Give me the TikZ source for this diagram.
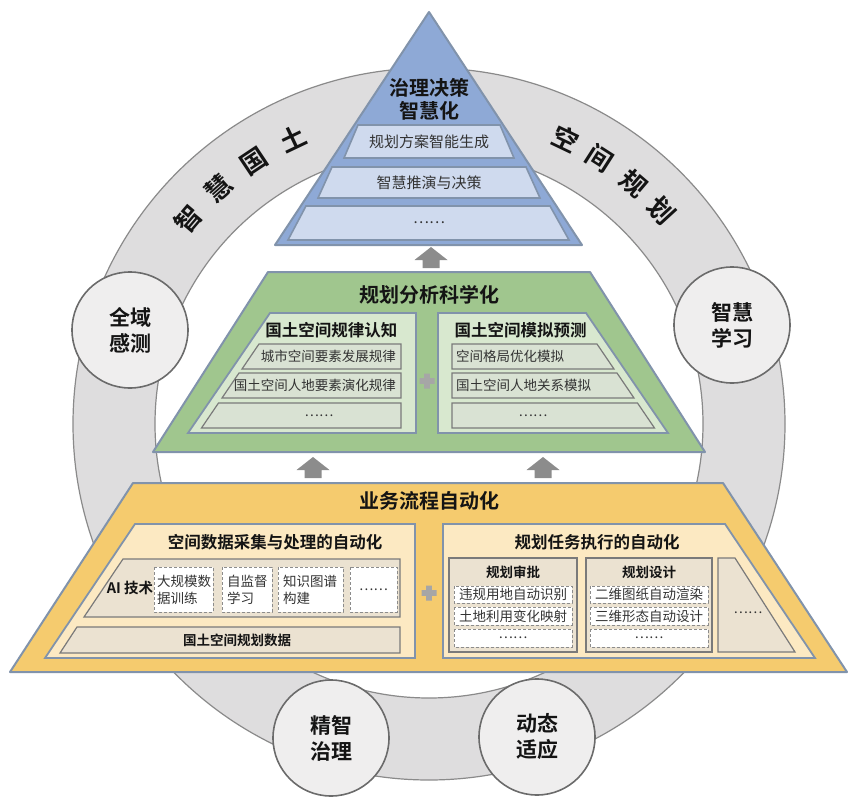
\documentclass[tikz,border=0pt]{standalone}
\usepackage{fontspec}
\setmainfont{Noto Sans CJK SC}[BoldFont={Noto Sans CJK SC Bold}]
\usepackage{tikz}
\usetikzlibrary{calc}
\definecolor{ringfill}{HTML}{DEDDDE}
\definecolor{ringline}{HTML}{8A8A8A}
\definecolor{bubblefill}{HTML}{EFEEEE}
\definecolor{bubbleline}{HTML}{6B6B6B}
\definecolor{tierline}{HTML}{8193AB}
\definecolor{rowline}{HTML}{7A7A7A}
\definecolor{dashline}{HTML}{8C8C8C}
\definecolor{pyrfill}{HTML}{8EA9D6}
\definecolor{pyrband}{HTML}{CFDAEE}
\definecolor{greenfill}{HTML}{A0C68E}
\definecolor{greenpanel}{HTML}{D8E8CF}
\definecolor{greenrow}{HTML}{D9E2D3}
\definecolor{goldfill}{HTML}{F5CB6E}
\definecolor{goldpanel}{HTML}{FCE9C2}
\definecolor{beige}{HTML}{EBE2D1}
\definecolor{arrowgray}{HTML}{8C8C8C}
\definecolor{plusgray}{HTML}{A6A6A6}
\definecolor{inkblack}{HTML}{141414}
\definecolor{inkgray}{HTML}{333333}
\tikzstyle{ring}=[fill=ringfill, draw=ringline, line width=1.2pt, even odd rule]
\tikzstyle{bubble}=[circle, minimum size=116pt, inner sep=0pt, fill=bubblefill, draw=bubbleline, line width=1.6pt, align=center, text=inkblack, font=\fontsize{21}{26}\selectfont\bfseries]
\tikzstyle{ringchar}=[font=\fontsize{26}{26}\selectfont\bfseries, text=inkblack]
\tikzstyle{tier}=[draw=tierline, line width=2pt, line join=round]
\tikzstyle{panel}=[draw=tierline, line width=1.8pt]
\tikzstyle{band}=[draw=tierline, line width=1.6pt, fill=pyrband]
\tikzstyle{rowbox}=[draw=rowline, line width=1.2pt]
\tikzstyle{dashbox}=[draw=dashline, line width=1pt, dash pattern=on 3pt off 2pt, fill=white]
\tikzstyle{tiertitle}=[font=\fontsize{20}{23}\selectfont\bfseries, text=inkblack, align=center]
\tikzstyle{header}=[font=\fontsize{16.5}{19}\selectfont\bfseries, text=inkblack]
\tikzstyle{bandtext}=[font=\fontsize{15}{18}\selectfont, text=inkgray]
\tikzstyle{rowtext}=[font=\fontsize{13.5}{17}\selectfont, text=inkgray, inner sep=0pt]
\tikzstyle{boldrow}=[font=\fontsize{13.5}{17}\selectfont\bfseries, text=inkblack, inner sep=0pt]
\newcommand{\upArrow}[1]{
	\fill[arrowgray, shift={#1}] (0,0) -- (16.5,13) -- (8.5,13) -- (8.5,21) -- (-8.5,21) -- (-8.5,13) -- (-16.5,13) -- cycle;
}
\newcommand{\plusSign}[1]{
	\fill[plusgray, shift={#1}] (-2.8,-7.5) rectangle (2.8,7.5) (-7.5,-2.8) rectangle (7.5,2.8);
}
\begin{document}
\begin{tikzpicture}[x=1pt, y=-1pt]
	\useasboundingbox (0,0) rectangle (855,808);
	\coordinate (C) at (429,424);
	\draw[ring] (C) circle (356pt) (C) circle (274pt);
	\foreach \ch/\ang [count=\i] in {智/139.5, 慧/131.9, 国/123.7, 土/115.5}
		\node[ringchar, rotate=\ang-90] (landch\i) at ($(C)+(-\ang:316)$) {\ch};
	\foreach \ch/\ang [count=\i] in {空/64.4, 间/57.4, 规/49.5, 划/42.5}
		\node[ringchar, rotate=\ang-90] (planch\i) at ($(C)+(-\ang:316)$) {\ch};
	\node[bubble] (sense) at (130,330) {全域\\感测};
	\node[bubble] (learn) at (732,325) {智慧\\学习};
	\node[bubble] (govern) at (331,738) {精智\\治理};
	\node[bubble] (adapt) at (537,737) {动态\\适应};

	\draw[tier, fill=pyrfill] (429,12) -- (582,245) -- (275,245) -- cycle;
	\draw[band] (358,125) -- (500,125) -- (514,158) -- (344,158) -- cycle;
	\draw[band] (332,167) -- (526,167) -- (540,198) -- (318,198) -- cycle;
	\draw[band] (306,206) -- (550,206) -- (569,240) -- (288,240) -- cycle;
	\node[tiertitle] (pyrtitle) at (429,99.5) {治理决策\\智慧化};
	\node[bandtext] (genplan) at (429,141.5) {规划方案智能生成};
	\node[bandtext] (deduce) at (429,182.5) {智慧推演与决策};
	\node[bandtext] (pyrmore) at (429,223) {……};
	\upArrow{(431,247)}

	\draw[tier, fill=greenfill] (268,272) -- (590,272) -- (705,452) -- (153,452) -- cycle;
	\node[tiertitle] (greentitle) at (429,295) {规划分析科学化};
	\draw[panel, fill=greenpanel] (270,313) -- (416,313) -- (416,433) -- (188,433) -- cycle;
	\draw[panel, fill=greenpanel] (438,313) -- (586,313) -- (668,433) -- (438,433) -- cycle;
	\draw[rowbox, fill=greenrow] (259,344) -- (401,344) -- (401,369) -- (242,369) -- cycle;
	\draw[rowbox, fill=greenrow] (239,373) -- (401,373) -- (401,398) -- (222,398) -- cycle;
	\draw[rowbox, fill=greenrow] (218.5,403) -- (401,403) -- (401,428) -- (201.5,428) -- cycle;
	\draw[rowbox, fill=greenrow] (452,344) -- (597,344) -- (614,369) -- (452,369) -- cycle;
	\draw[rowbox, fill=greenrow] (452,373) -- (617,373) -- (634,398) -- (452,398) -- cycle;
	\draw[rowbox, fill=greenrow] (452,403) -- (637.5,403) -- (654.5,428) -- (452,428) -- cycle;
	\node[header, anchor=east] (lawhead) at (401,330) {国土空间规律认知};
	\node[header, anchor=west] (simhead) at (451,330) {国土空间模拟预测};
	\node[rowtext, anchor=east] (urbanlaw) at (396,356.5) {城市空间要素发展规律};
	\node[rowtext, anchor=east] (evolaw) at (396,385.5) {国土空间人地要素演化规律};
	\node[rowtext] (lawmore) at (319,415.5) {……};
	\node[rowtext, anchor=west] (layoutsim) at (456,356.5) {空间格局优化模拟};
	\node[rowtext, anchor=west] (relsim) at (456,385.5) {国土空间人地关系模拟};
	\node[rowtext] (simmore) at (533,415.5) {……};
	\plusSign{(427,381)}
	\upArrow{(313,457)}
	\upArrow{(543,457)}

	\draw[tier, fill=goldfill] (133,483) -- (723,483) -- (847,672) -- (10,672) -- cycle;
	\node[tiertitle] (goldtitle) at (429,501) {业务流程自动化};
	\draw[panel, fill=goldpanel] (135,524) -- (415,524) -- (415,658) -- (45,658) -- cycle;
	\draw[panel, fill=goldpanel] (443,524) -- (725,524) -- (815,658) -- (443,658) -- cycle;
	\node[header] (datahead) at (275,542) {空间数据采集与处理的自动化};
	\node[header] (taskhead) at (597,542) {规划任务执行的自动化};
	\draw[rowbox, fill=beige] (123,559) -- (400,559) -- (400,617) -- (84,617) -- cycle;
	\node[boldrow, font=\fontsize{14.5}{17}\selectfont\bfseries] (aitech) at (130,588) {AI 技术};
	\draw[dashbox] (154,567) rectangle (213,612);
	\draw[dashbox] (222,567) rectangle (272,612);
	\draw[dashbox] (278,567) rectangle (343,612);
	\draw[dashbox] (350,567) rectangle (397,612);
	\node[rowtext, anchor=west, align=left] (bigdata) at (157,589.5) {大规模数\\据训练};
	\node[rowtext, anchor=west, align=left] (selfsup) at (227,589.5) {自监督\\学习};
	\node[rowtext, anchor=west, align=left] (kgraph) at (283,589.5) {知识图谱\\构建};
	\node[rowtext] (aimore) at (373.5,589.5) {……};
	\draw[rowbox, fill=beige] (77,627) -- (400,627) -- (400,653) -- (60,653) -- cycle;
	\node[boldrow] (spacedata) at (237,640) {国土空间规划数据};

	\draw[rowbox, fill=beige] (449,558) rectangle (577,652);
	\node[boldrow] (approve) at (513,572) {规划审批};
	\draw[dashbox] (454,586) rectangle (572,603);
	\draw[dashbox] (454,607) rectangle (572,625);
	\draw[dashbox] (454,629) rectangle (572,647);
	\node[rowtext] (illegal) at (513,594.5) {违规用地自动识别};
	\node[rowtext] (landuse) at (513,616) {土地利用变化映射};
	\node[rowtext] (approvemore) at (513,638) {……};
	\draw[rowbox, fill=beige] (586,558) rectangle (712,652);
	\node[boldrow] (design) at (649,572) {规划设计};
	\draw[dashbox] (590,586) rectangle (708,603);
	\draw[dashbox] (590,607) rectangle (708,625);
	\draw[dashbox] (590,629) rectangle (708,647);
	\node[rowtext] (render) at (649,594.5) {二维图纸自动渲染};
	\node[rowtext] (form) at (649,616) {三维形态自动设计};
	\node[rowtext] (designmore) at (649,638) {……};
	\draw[rowbox, fill=beige] (718,558) -- (735,558) -- (795,652) -- (718,652) -- cycle;
	\node[rowtext] (taskmore) at (748,613) {……};
	\plusSign{(429,593)}
\end{tikzpicture}
\end{document}
